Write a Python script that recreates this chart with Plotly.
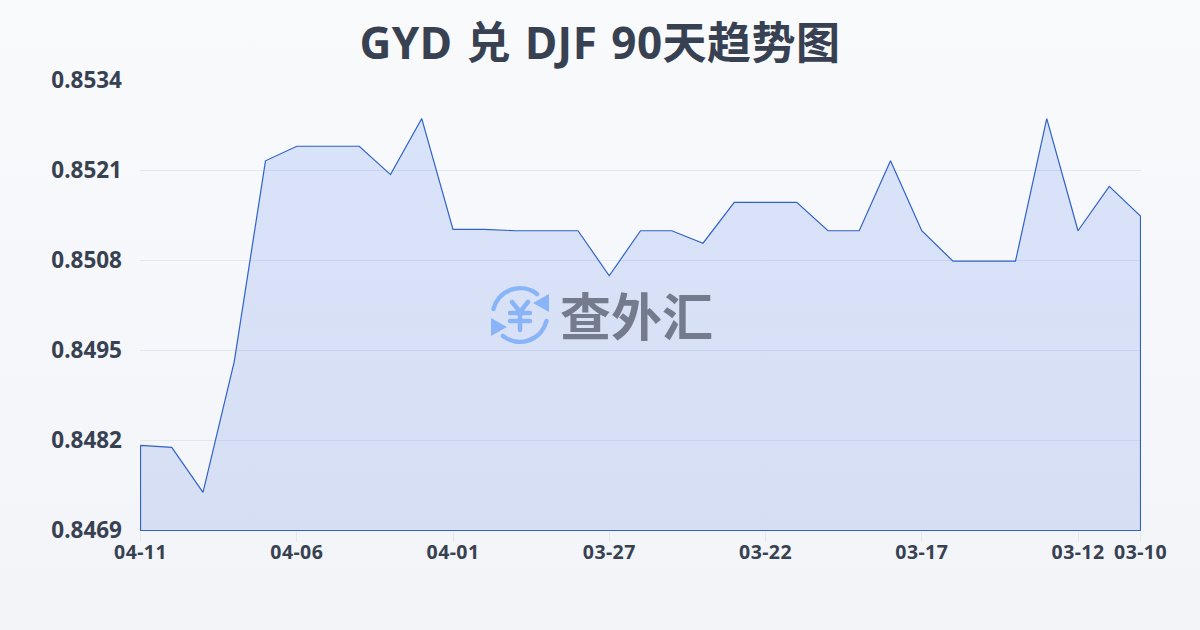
import base64
import plotly.graph_objects as go

dates = ["04-11","04-10","04-09","04-08","04-07","04-06","04-05","04-04","04-03","04-02",
         "04-01","03-31","03-30","03-29","03-28","03-27","03-26","03-25","03-24","03-23",
         "03-22","03-21","03-20","03-19","03-18","03-17","03-16","03-15","03-14","03-13",
         "03-12","03-11","03-10"]
rates = [0.84813,0.84810,0.84745,0.84934,0.85224,0.85245,0.85245,0.85245,0.85204,0.85285,
         0.85125,0.85125,0.85123,0.85123,0.85123,0.85058,0.85123,0.85123,0.85105,0.85164,
         0.85164,0.85164,0.85123,0.85123,0.85224,0.85123,0.85079,0.85079,0.85079,0.85285,
         0.85123,0.85187,0.85144]
y_ticks = [0.8469,0.8482,0.8495,0.8508,0.8521,0.8534]
x_ticks = ["04-11","04-06","04-01","03-27","03-22","03-17","03-12","03-10"]
title = "GYD 兑 DJF 90天趋势图"
watermark = "查外汇"
CJK = "Noto Sans CJK SC"
MIXED = "Noto Sans, Noto Sans CJK SC"
dy = 0.5 / 450 * (y_ticks[-1] - y_ticks[0])

logo_svg = """<svg xmlns='http://www.w3.org/2000/svg' viewBox='0 0 60 60'>
<g fill='none' stroke='#8ab4f8' stroke-width='4.5' stroke-linecap='round'>
<path d='M3.5 24 A27.5 27.5 0 0 1 47 9'/><path d='M56.5 36 A27.5 27.5 0 0 1 13 51'/>
<path d='M22 17 L30 27 L38 17 M20 28 H40 M20 36 H40 M30 27 V45'/></g>
<path d='M43 18 L59 9 L59 27 Z M17 42 L1 51 L1 33 Z' fill='#8ab4f8'/></svg>"""
logo_uri = "data:image/svg+xml;base64," + base64.b64encode(logo_svg.encode()).decode()

fig = go.Figure()
fig.add_trace(go.Scatter(
    x=dates + [dates[-1], dates[0], dates[0]],
    y=rates + [y_ticks[0], y_ticks[0], rates[0]],
    mode="lines", fill="toself", cliponaxis=False, hoverinfo="skip",
    line=dict(color="#2f62c8", width=1.2),
    fillgradient=dict(type="vertical", colorscale=[[0,"rgba(40,85,215,0.14)"],[1,"rgba(37,99,235,0.145)"]]),
))
fig.update_layout(
    width=1200, height=630, showlegend=False,
    paper_bgcolor="rgba(0,0,0,0)", plot_bgcolor="rgba(0,0,0,0)",
    margin=dict(l=140, r=59, t=80, b=99),
    font=dict(family=MIXED, color="#374151"),
    title=dict(text=f"<b>{title}</b>", x=0.5, xanchor="center", y=0.931, yanchor="middle",
               font=dict(family=MIXED, size=44, color="#374151")),
    xaxis=dict(type="category", categoryorder="array", categoryarray=dates, range=[-0.016,32.016],
               tickmode="array", tickvals=x_ticks, ticktext=[f"<b>{t}</b>" for t in x_ticks],
               tickangle=0,
               showgrid=False, zeroline=False, showline=False,
               ticks="outside", ticklen=10, tickcolor="#e2e8f0", tickwidth=1, ticklabelstandoff=-6,
               tickfont=dict(family=MIXED, size=19.5, color="#374151")),
    yaxis=dict(range=[y_ticks[0]-dy, y_ticks[-1]+dy], tickmode="array", tickvals=y_ticks,
               ticktext=[f"<b>{t:.4f}</b>" for t in y_ticks],
               showgrid=True, gridcolor="#e2e8f0", gridwidth=1, zeroline=False, showline=False,
               ticks="", ticklabelstandoff=17,
               tickfont=dict(family=MIXED, size=22.5, color="#374151")),
    images=[dict(source=logo_uri, xref="paper", yref="paper", x=(490-140)/1001, y=1-(285-80)/451,
                 sizex=60/1001, sizey=60/451, sizing="stretch", xanchor="left", yanchor="top", layer="above")],
    annotations=[dict(text=f"<b>{watermark}</b>", xref="paper", yref="paper", x=(636-140)/1001, y=1-(314-80)/451,
                      showarrow=False, xanchor="center", yanchor="middle",
                      font=dict(family=CJK, size=51, color="#737b8c"))],
)
post = """
document.documentElement.style.margin='0';
document.body.style.margin='0';
document.body.style.overflow='hidden';
document.body.style.background='linear-gradient(to bottom,#f9fafc,#f2f4f8)';
document.body.style.minHeight='630px';
document.querySelectorAll('.gtitle').forEach(function(t){t.style.letterSpacing='0.5px';t.style.wordSpacing='2px';});
document.querySelectorAll('.xtick text').forEach(function(t){t.style.letterSpacing='0.4px';});
"""
fig.write_html("out.html", post_script=post, config={"displayModeBar": False})
